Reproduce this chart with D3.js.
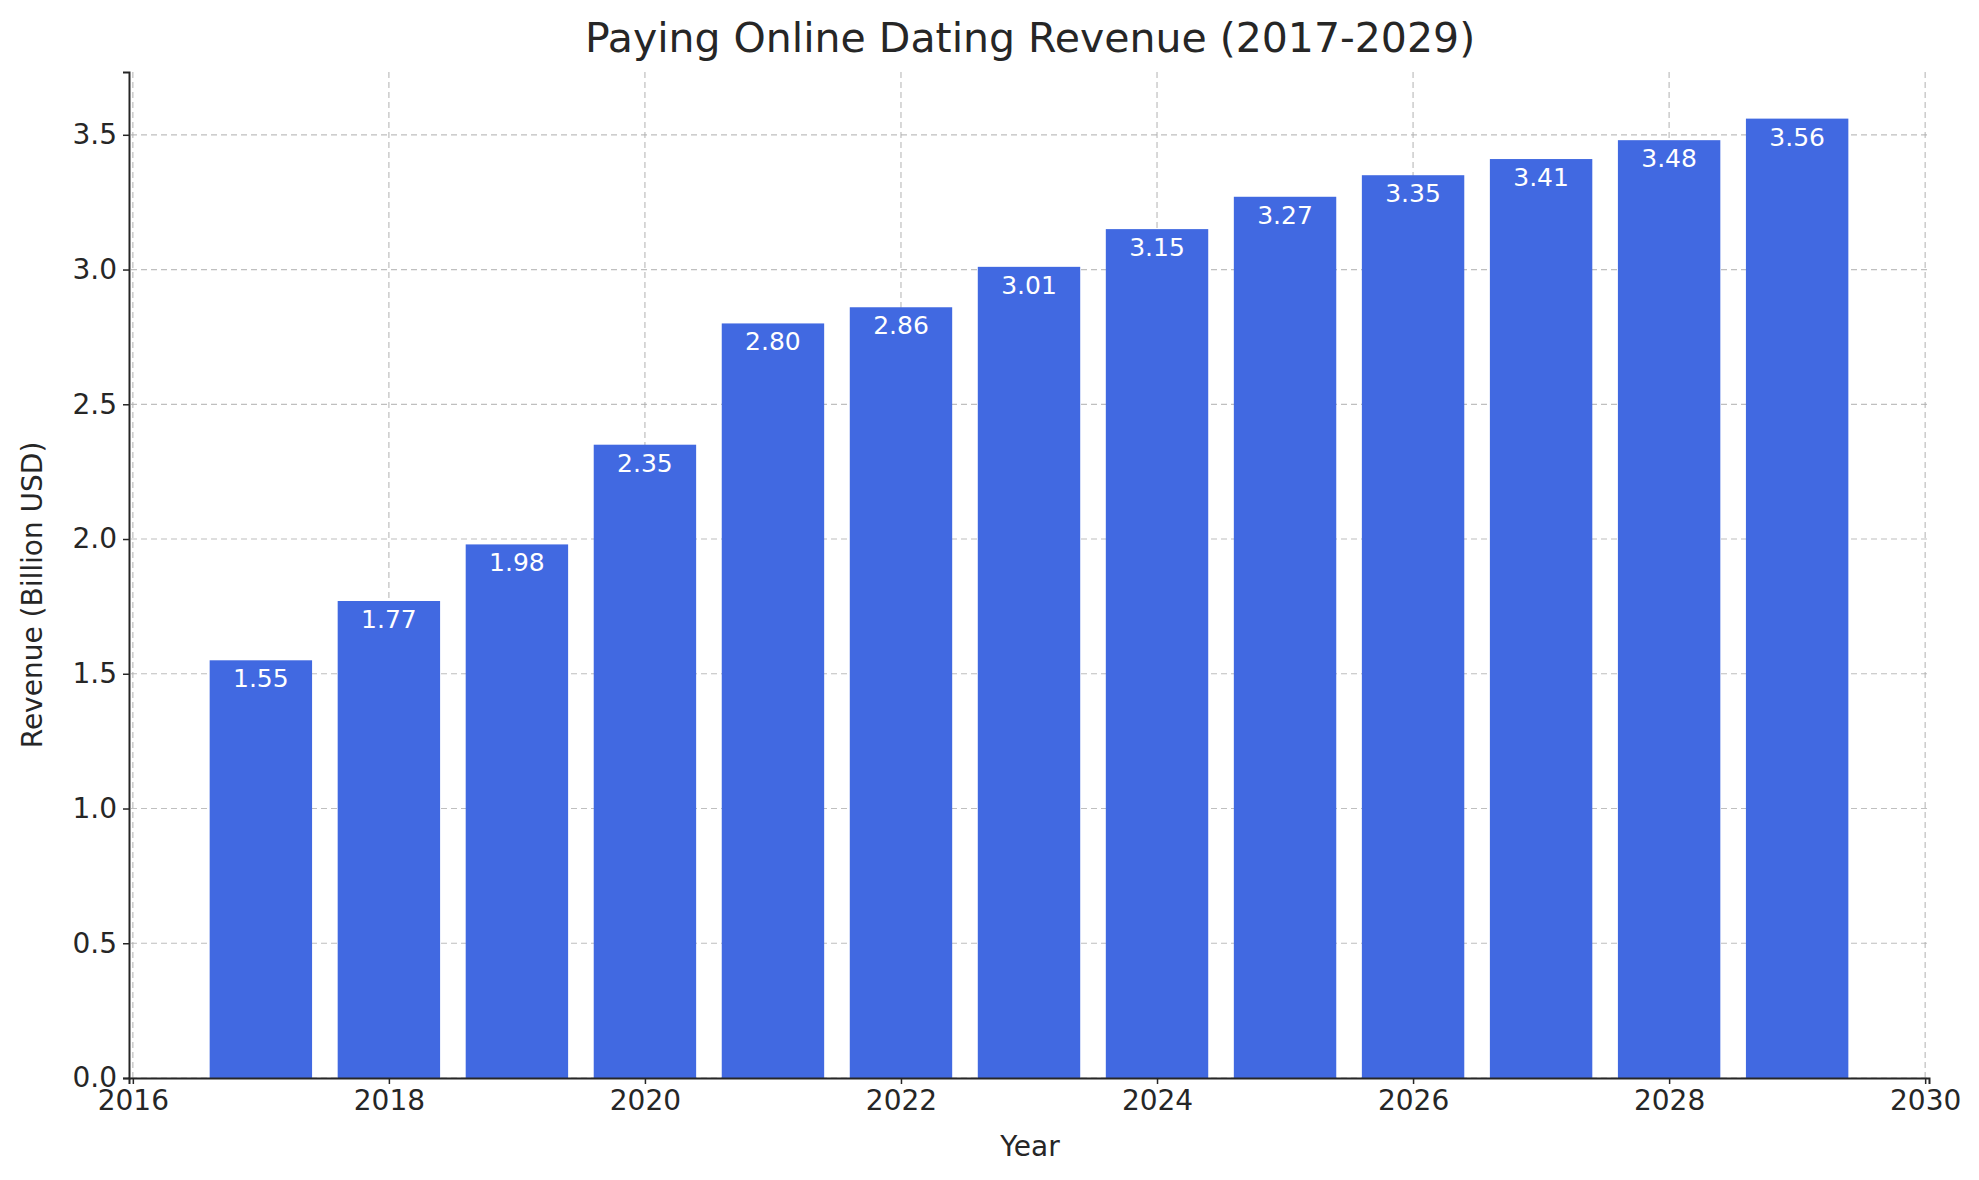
<!DOCTYPE html>
<html>
<head>
<meta charset="utf-8">
<script src="https://cdn.jsdelivr.net/npm/d3@7"></script>
<style>
  body { margin: 0; background: #fff; }
  svg text { font-family: "DejaVu Sans", sans-serif; fill: #262626; }
</style>
</head>
<body>
<svg id="chart" width="1979" height="1180"></svg>
<script>
// Data.
const years = [2017, 2018, 2019, 2020, 2021, 2022, 2023, 2024, 2025, 2026, 2027, 2028, 2029];
const revenue = [1.55, 1.77, 1.98, 2.35, 2.80, 2.86, 3.01, 3.15, 3.27, 3.35, 3.41, 3.48, 3.56];
const xTicks = [2016, 2018, 2020, 2022, 2024, 2026, 2028, 2030];
const yTicks = [0, 0.5, 1.0, 1.5, 2.0, 2.5, 3.0, 3.5];

(function () {
const svg = d3.select("#chart");
const mLeft = 131, mRight = 1929, mTop = 72, mBottom = 1078;

const x = d3.scaleLinear().domain([2015.97, 2030.03]).range([mLeft - 2, mRight]);
const y = d3.scaleLinear().domain([0, 3.733]).range([mBottom, mTop]);

// Grid.
svg.append("g").selectAll("line").data(xTicks).join("line")
    .attr("x1", d => x(d)).attr("x2", d => x(d))
    .attr("y1", mTop).attr("y2", mBottom)
    .attr("stroke", "#b0b0b0").attr("stroke-width", 1.2).attr("stroke-dasharray", "6,4").attr("opacity", 0.8);
svg.append("g").selectAll("line").data(yTicks).join("line")
    .attr("x1", mLeft).attr("x2", mRight)
    .attr("y1", d => y(d)).attr("y2", d => y(d))
    .attr("stroke", "#b0b0b0").attr("stroke-width", 1.2).attr("stroke-dasharray", "6,4").attr("opacity", 0.8);

// Bars.
const bw = x(2017.4) - x(2016.6);
svg.append("g").selectAll("rect").data(years).join("rect")
    .attr("x", d => x(d - 0.4)).attr("width", bw)
    .attr("y", (d, i) => y(revenue[i])).attr("height", (d, i) => mBottom - y(revenue[i]))
    .attr("fill", "#4169e1");

// Value labels.
svg.append("g").selectAll("text").data(years).join("text")
    .attr("x", d => x(d)).attr("y", (d, i) => y(revenue[i] - 0.1))
    .attr("text-anchor", "middle").attr("font-size", 25)
    .style("fill", "#fff")
    .text((d, i) => revenue[i].toFixed(2));

// Axes.
const xAxis = svg.append("g").attr("transform", `translate(0,${mBottom})`)
    .call(d3.axisBottom(x).tickValues(xTicks).tickFormat(d3.format("d")).tickSize(6).tickPadding(6));
const yAxis = svg.append("g").attr("transform", `translate(${mLeft - 2},0)`)
    .call(d3.axisLeft(y).tickValues(yTicks).tickFormat(d3.format(".1f")).tickSize(6).tickPadding(6));
[xAxis, yAxis].forEach(a => {
    a.select(".domain").attr("stroke", "#262626").attr("stroke-width", 2);
    a.selectAll(".tick line").attr("stroke", "#262626").attr("stroke-width", 1.5);
    a.selectAll(".tick text").attr("font-size", 28).style("font-family", "DejaVu Sans").style("fill", "#262626");
});

// Titles.
svg.append("text").attr("x", (mLeft + mRight) / 2).attr("y", 52)
    .attr("text-anchor", "middle").attr("font-size", 41).text("Paying Online Dating Revenue (2017-2029)");
svg.append("text").attr("x", (mLeft + mRight) / 2).attr("y", 1156)
    .attr("text-anchor", "middle").attr("font-size", 28).text("Year");
svg.append("text").attr("transform", `translate(42,${(mTop + mBottom) / 2 + 20}) rotate(-90)`)
    .attr("text-anchor", "middle").attr("font-size", 28).text("Revenue (Billion USD)");
})();
</script>
</body>
</html>
